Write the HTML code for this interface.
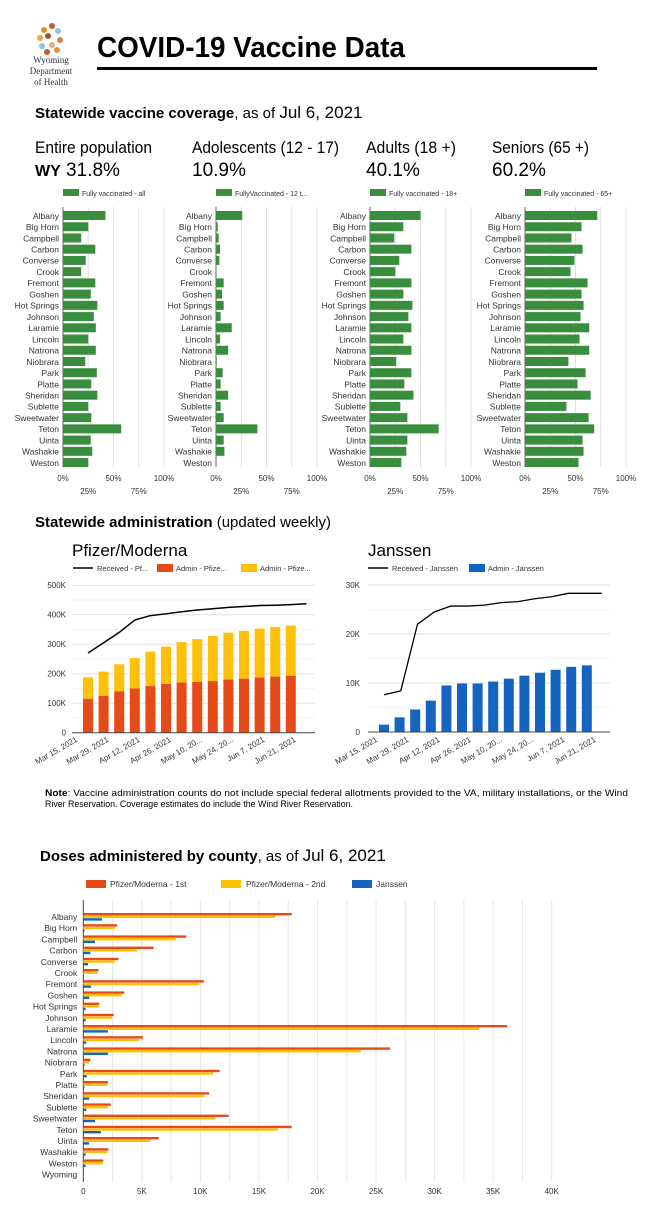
<!DOCTYPE html>
<html><head><meta charset="utf-8">
<style>
html,body{margin:0;padding:0;background:#fff;width:650px;height:1228px;overflow:hidden}
svg{display:block;font-family:"Liberation Sans",sans-serif}
</style></head>
<body>
<svg id="s" width="650" height="1228" viewBox="0 0 650 1228" xmlns="http://www.w3.org/2000/svg">
<g>
<circle cx="44" cy="30" r="3" fill="#e08a2c"/><circle cx="52" cy="26" r="3" fill="#c0602a"/>
<circle cx="58" cy="31" r="3" fill="#8fc3e0"/><circle cx="40" cy="38" r="3" fill="#f0a040"/>
<circle cx="48" cy="36" r="3" fill="#a0522d"/><circle cx="60" cy="40" r="3" fill="#d08040"/>
<circle cx="42" cy="46" r="3" fill="#8fc3e0"/><circle cx="52" cy="45" r="3" fill="#e8b070"/>
<circle cx="47" cy="52" r="3" fill="#c06030"/><circle cx="57" cy="50" r="3" fill="#e09040"/>
<text x="51" y="63" font-family="Liberation Serif,serif" font-size="9" text-anchor="middle" fill="#333">Wyoming</text>
<text x="51" y="74" font-family="Liberation Serif,serif" font-size="9" text-anchor="middle" fill="#333">Department</text>
<text x="51" y="85" font-family="Liberation Serif,serif" font-size="9" text-anchor="middle" fill="#333">of Health</text>
</g>
<text x="97" y="57" font-size="29" font-weight="bold" fill="#000" textLength="308" lengthAdjust="spacingAndGlyphs">COVID-19 Vaccine Data</text>
<rect x="97" y="67" width="500" height="3" fill="#000"/>
<text x="35" y="118" font-size="15" fill="#000"><tspan font-weight="bold">Statewide vaccine coverage</tspan>, as of  <tspan font-size="17">Jul 6, 2021</tspan></text>
<text x="35" y="153" font-size="17" textLength="117" lengthAdjust="spacingAndGlyphs">Entire population</text>
<text x="35" y="176" font-size="19"><tspan font-weight="bold" font-size="16">WY</tspan> 31.8%</text>
<text x="192" y="153" font-size="17" textLength="147" lengthAdjust="spacingAndGlyphs">Adolescents (12 - 17)</text>
<text x="192" y="176" font-size="19">10.9%</text>
<text x="366" y="153" font-size="17" textLength="90" lengthAdjust="spacingAndGlyphs">Adults (18 +)</text>
<text x="366" y="176" font-size="19">40.1%</text>
<text x="492" y="153" font-size="17" textLength="97" lengthAdjust="spacingAndGlyphs">Seniors (65 +)</text>
<text x="492" y="176" font-size="19">60.2%</text>

<text x="35" y="527" font-size="15"><tspan font-weight="bold">Statewide administration</tspan> (updated weekly)</text>
<text x="72" y="556" font-size="17">Pfizer/Moderna</text>
<text x="368" y="556" font-size="17">Janssen</text>

<text x="45" y="796" font-size="9.5" textLength="583" lengthAdjust="spacingAndGlyphs"><tspan font-weight="bold">Note</tspan>: Vaccine administration counts do not include special federal allotments provided to the VA, military installations, or the Wind</text>
<text x="45" y="807" font-size="9.5" textLength="308" lengthAdjust="spacingAndGlyphs">River Reservation. Coverage estimates do include the Wind River Reservation.</text>

<text x="40" y="861" font-size="15"><tspan font-weight="bold">Doses administered by county</tspan>, as of <tspan font-size="17">Jul 6, 2021</tspan></text>
<g id="g"></g>
</svg>
<script>
var g=document.getElementById('g'),h='';
function R(x,y,w,hh,c){h+='<rect x="'+x+'" y="'+y+'" width="'+w+'" height="'+hh+'" fill="'+c+'"/>';}
function T(x,y,t,s,a,extra){h+='<text x="'+x+'" y="'+y+'" font-size="'+s+'" text-anchor="'+(a||'start')+'" fill="#333" '+(extra||'')+'>'+t+'</text>';}
function L(x1,y1,x2,y2,c,w){h+='<line x1="'+x1+'" y1="'+y1+'" x2="'+x2+'" y2="'+y2+'" stroke="'+c+'" stroke-width="'+(w||1)+'"/>';}
var C=["Albany","Big Horn","Campbell","Carbon","Converse","Crook","Fremont","Goshen","Hot Springs","Johnson","Laramie","Lincoln","Natrona","Niobrara","Park","Platte","Sheridan","Sublette","Sweetwater","Teton","Uinta","Washakie","Weston"];
var P=[
 {x:63,leg:"Fully vaccinated - all",d:[42,25,18,32,22.5,18,32,27.5,34,30.5,32.5,25,32.5,22,33.5,28,34,25,28,57.6,27.5,29,25]},
 {x:216,leg:"FullyVaccinated - 12 t...",d:[26,1.7,2.6,4,3.3,0.3,7.6,6,7.6,4.6,15.6,4,12,0.7,6.6,4.6,12,4.6,7.6,41,7.6,8.3,0]},
 {x:370,leg:"Fully vaccinated - 18+",d:[50,33,24,41,29,25,41,33,42,38,41,33,41,26,41,34,43,30,37,68,37,36,31]},
 {x:525,leg:"Fully vaccinated - 65+",d:[71.5,56,46,57,49,45,62,56,58,55,63.6,54,63.6,43,60,52,65,41,63,68.5,57,58,53]}];
P.forEach(function(p){
 var x0=p.x,W=101;
 R(x0,189,16,7,'#388e3c');T(x0+19,196,p.leg,7);
 for(var k=1;k<=4;k++)L(x0+W*k/4,207,x0+W*k/4,467,'#e0e0e0');
 L(x0,207,x0,467,'#666');
 C.forEach(function(c,i){var y=215.5+i*11.23;
  T(x0-4,y+3.3,c,8.5,'end');
  if(p.d[i]>0)R(x0,y-4.5,p.d[i]*W/100,9,'#388e3c');});
 T(x0,481,'0%',8,'middle');T(x0+W/2,481,'50%',8,'middle');T(x0+W,481,'100%',8,'middle');
 T(x0+W/4,494,'25%',8,'middle');T(x0+3*W/4,494,'75%',8,'middle');
});
var dates=["Mar 15, 2021","Mar 29, 2021","Apr 12, 2021","Apr 26, 2021","May 10, 20...","May 24, 20...","Jun 7, 2021","Jun 21, 2021"];
(function(){
 var y0=732.7,k=29.5/100,xl=72,xr=315;
 for(var v=50;v<=500;v+=50){var y=y0-v*k;L(xl,y,xr,y,v%100?'#f2f2f2':'#e0e0e0');}
 for(var v=0;v<=500;v+=100)T(xl-6,y0-v*k+3,v?v+'K':'0',8,'end');
 var red=[115,125,140,150,158,165,170,172,175,180,183,187,190,193],tot=[188,207,232,253,275,292,307,317,328,339,345,353,358,363],
 line=[270,305,340,382,397,403,410,416,420,425,428,431,432,434,437];
 for(var i=0;i<14;i++){var cx=88+i*15.6;R(cx-5,y0-tot[i]*k,10,(tot[i]-red[i])*k,'#ffc107');R(cx-5,y0-red[i]*k,10,red[i]*k,'#e64a19');}
 var pts=[];for(var i=0;i<15;i++)pts.push((88+i*15.6)+','+(y0-line[i]*k));
 h+='<polyline points="'+pts.join(' ')+'" fill="none" stroke="#000" stroke-width="1.5"/>';
 L(xl,y0,xr,y0,'#444');
 for(var j=0;j<8;j++)T(78+j*31.2,741,dates[j],8,'end','transform="rotate(-30 '+(78+j*31.2)+' 741)"');
 L(73,568,93,568,'#000',1.5);T(97,571,'Received - Pf...',7.5);
 R(157,564,16,8,'#e64a19');T(176,571,'Admin - Pfize...',7.5);
 R(241,564,16,8,'#ffc107');T(260,571,'Admin - Pfize...',7.5);
})();
(function(){
 var y0=732,k=4.9,xl=368,xr=610;
 for(var v=5;v<=30;v+=5){var y=y0-v*k;L(xl,y,xr,y,v%10?'#f2f2f2':'#e0e0e0');}
 for(var v=0;v<=30;v+=10)T(xl-8,y0-v*k+3,v?v+'K':'0',8,'end');
 var b=[1.5,3,4.6,6.4,9.5,9.9,9.9,10.3,10.9,11.5,12.1,12.7,13.3,13.6],
 line=[7.6,8.4,22,24.5,25.7,25.7,25.9,26.4,26.6,27.2,27.6,28.3,28.3,28.3];
 for(var i=0;i<14;i++){var cx=384+i*15.6;R(cx-5,y0-b[i]*k,10,b[i]*k,'#1565c0');}
 var pts=[];for(var i=0;i<14;i++)pts.push((384+i*16.75)+','+(y0-line[i]*k));
 h+='<polyline points="'+pts.join(' ')+'" fill="none" stroke="#000" stroke-width="1.3"/>';
 L(xl,y0,xr,y0,'#444');
 for(var j=0;j<8;j++)T(378+j*31.2,741,dates[j],8,'end','transform="rotate(-30 '+(378+j*31.2)+' 741)"');
 L(368,568,388,568,'#000',1.5);T(392,571,'Received - Janssen',7.5);
 R(469,564,16,8,'#1565c0');T(488,571,'Admin - Janssen',7.5);
})();
(function(){
 var x0=83.3,k=11.71;
 R(86,880,20,8,'#e64a19');T(110,887,'Pfizer/Moderna - 1st',8.5);
 R(221,880,20,8,'#ffc107');T(246,887,'Pfizer/Moderna - 2nd',8.5);
 R(352,880,20,8,'#1565c0');T(376,887,'Janssen',8.5);
 for(var v=2.5;v<=40;v+=2.5)L(x0+v*k,900,x0+v*k,1182,'#e6e6e6');
 L(x0,900,x0,1182,'#444');
 for(var v=0;v<=40;v+=5)T(x0+v*k,1194,v?v+'K':'0',8,'middle');
 var D=[[17.8,16.4,1.6],[2.9,2.7,0.1],[8.8,7.9,1.0],[6.0,4.6,0.6],[3.0,2.7,0.4],[1.3,1.2,0.05],[10.3,9.9,0.65],[3.5,3.3,0.5],[1.35,1.3,0.2],[2.6,2.45,0.2],[36.2,33.8,2.1],[5.1,4.75,0.25],[26.2,23.7,2.1],[0.6,0.5,0.1],[11.65,11.1,0.3],[2.1,2.05,0.1],[10.75,10.35,0.5],[2.35,2.1,0.25],[12.4,11.3,1.0],[17.8,16.6,1.5],[6.45,5.7,0.5],[2.15,2.05,0.2],[1.7,1.65,0.2],[0,0,0]];
 var names=C.concat(["Wyoming"]);
 names.forEach(function(c,i){var y=917+i*11.2;
  T(x0-6,y+3,c,8.5,'end');
  var d=D[i];
  if(d[0])R(x0,y-4,d[0]*k,2.4,'#e64a19');
  if(d[1])R(x0,y-1.4,d[1]*k,2.4,'#ffc107');
  if(d[2])R(x0,y+1.2,d[2]*k,2.4,'#1565c0');});
})();
g.innerHTML=h;
</script>
</body></html>
